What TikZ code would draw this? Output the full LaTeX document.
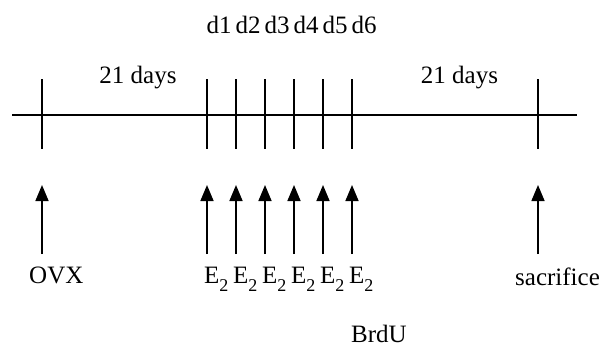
\documentclass[tikz,border=0pt]{standalone}
\usepackage{fontspec}
\setmainfont{Liberation Serif}
\usetikzlibrary{arrows.meta}
\newcommand{\subtwo}{\raisebox{-8.5pt}{\fontsize{18}{20}\selectfont 2}}
\begin{document}
\begin{tikzpicture}[x=1pt,y=-1pt,
  lbl/.style={inner sep=0pt,font=\fontsize{25}{28}\selectfont},
  lineset/.style={line width=1.6pt,black},
  up/.style={line width=1.6pt,-{Triangle[length=16pt,width=13pt]}}]
\useasboundingbox (0,0) rectangle (605,346);
% main line
\coordinate (L) at (12,115);
\coordinate (R) at (577,115);
\draw[lineset] (L) -- (R);
% ticks and arrows
\foreach \n/\x in {t0/42,t1/207,t2/236,t3/265,t4/294,t5/323,t6/352,t7/538}{
  \coordinate (\n top) at (\x,79);
  \coordinate (\n bot) at (\x,149);
  \draw[lineset] (\n top) -- (\n bot);
  \coordinate (\n from) at (\x,254);
  \coordinate (\n tip) at (\x,185);
  \draw[up] (\n from) -- (\n tip);
}
% top labels
\foreach \n/\x/\k in {t1/207/1,t2/236/2,t3/265/3,t4/294/4,t5/323/5,t6/352/6}{
  \node[lbl,anchor=base west] (d\k) at (\x-0.5,33) {d\k};
  \node[lbl,anchor=base west] (e\k) at (\x-3,283) {E\subtwo};
}
\node[lbl,anchor=base] (days1) at (138,83) {21 days};
\node[lbl,anchor=base] (days2) at (459.5,83) {21 days};
\node[lbl,anchor=base west] (ovx) at (29,283) {OVX};
\node[lbl,anchor=base west] (sac) at (515,285) {sacrifice};
\node[lbl,anchor=base west] (brdu) at (351,342) {BrdU};
\end{tikzpicture}
\end{document}
